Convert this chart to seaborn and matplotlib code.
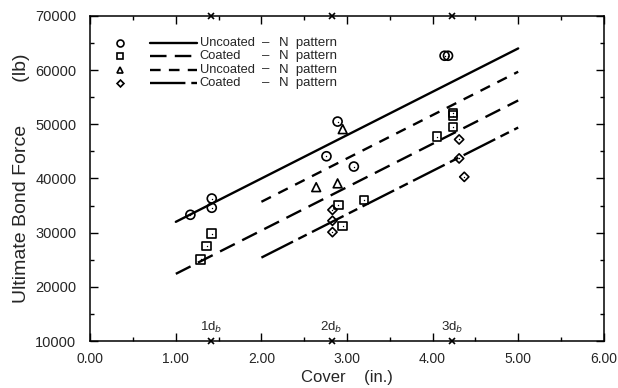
import numpy as np
import pandas as pd
import matplotlib
matplotlib.use("Agg")
import matplotlib.pyplot as plt
import seaborn as sns
from matplotlib.ticker import MultipleLocator, FormatStrFormatter

# measured points (cover in inches, force in lb)
circ_x = [1.17, 1.42, 1.42, 2.76, 2.89, 3.08, 4.14, 4.18]
circ_y = [33300, 34600, 36300, 44100, 50500, 42200, 62650, 62650]
sq_x = [1.29, 1.36, 1.42, 2.90, 2.95, 3.20, 4.05, 4.24, 4.24, 4.24]
sq_y = [25100, 27500, 29800, 35100, 31200, 36000, 47700, 49500, 51600, 52100]
tri_x = [2.64, 2.89, 2.95]
tri_y = [38400, 39100, 49100]
dia_x = [2.83, 2.83, 2.83, 4.31, 4.31, 4.37]
dia_y = [34200, 32200, 30100, 47200, 43700, 40300]

# fitted lines
fit1_x, fit1_y = [1.0, 5.0], [32000, 64000]   # solid
fit2_x, fit2_y = [1.0, 5.0], [22400, 54400]   # long dash
fit3_x, fit3_y = [2.0, 5.0], [35700, 59700]   # short dash
fit4_x, fit4_y = [2.0, 5.0], [25400, 49400]   # dash-dot

# bar diameter multiples
db_x = [1.41, 2.82, 4.23]
db_labels = ["1d$_b$", "2d$_b$", "3d$_b$"]

legend_kind = ["Uncoated", "Coated", "Uncoated", "Coated"]
legend_pat = ["N  pattern", "N  pattern", "N  pattern", "N  pattern"]

sns.set_style("ticks")
plt.rcParams["font.family"] = ["Liberation Sans", "DejaVu Sans"]

fig = plt.figure(figsize=(6.18, 3.88), dpi=100)
ax = fig.add_axes([0.146, 0.121, 0.831, 0.838])

pts = pd.concat([
    pd.DataFrame({"x": circ_x, "y": circ_y, "g": "circ"}),
    pd.DataFrame({"x": sq_x, "y": sq_y, "g": "sq"}),
    pd.DataFrame({"x": tri_x, "y": tri_y, "g": "tri"}),
    pd.DataFrame({"x": dia_x, "y": dia_y, "g": "dia"}),
])
markers = {"circ": "o", "sq": "s", "tri": "^", "dia": "D"}
sizes = {"circ": 42, "sq": 38, "tri": 40, "dia": 22}
for g, m in markers.items():
    sub = pts[pts.g == g]
    sns.scatterplot(data=sub, x="x", y="y", marker=m, s=sizes[g], facecolor="none",
                    edgecolor="black", linewidth=1.2, ax=ax, zorder=4)
    if g != "tri":
        sns.scatterplot(data=sub, x="x", y="y", marker=".", s=4, color="black",
                        linewidth=0, ax=ax, zorder=4)

lines = [
    (fit1_x, fit1_y, (None, None)),
    (fit2_x, fit2_y, (7, 3.5)),
    (fit3_x, fit3_y, (4.5, 3.5)),
    (fit4_x, fit4_y, (15, 2.5, 4, 2.5)),
]
for lx, ly, dash in lines:
    l, = ax.plot(lx, ly, color="black", lw=1.7, zorder=3)
    if dash[0] is not None:
        l.set_dashes(dash)

# db markers on top and bottom axes
for xv, lab in zip(db_x, db_labels):
    ax.plot([xv], [70000], marker="x", color="black", ms=5, mew=1.2, clip_on=False, zorder=5)
    ax.plot([xv], [10000], marker="x", color="black", ms=5, mew=1.2, clip_on=False, zorder=5)
    ax.text(xv, 11200, lab, ha="center", va="bottom", fontsize=9.5)

ax.set_xlim(0, 6)
ax.set_ylim(10000, 70000)
ax.xaxis.set_major_locator(MultipleLocator(1))
ax.xaxis.set_minor_locator(MultipleLocator(0.5))
ax.yaxis.set_major_locator(MultipleLocator(10000))
ax.yaxis.set_minor_locator(MultipleLocator(5000))
ax.xaxis.set_major_formatter(FormatStrFormatter("%.2f"))
ax.tick_params(which="both", direction="in", top=True, right=True, color="black", width=1)
ax.tick_params(which="major", length=6, labelsize=10, pad=8)
ax.tick_params(which="minor", length=3)
ax.tick_params(axis="y", labelsize=10.5, pad=10)
for s in ax.spines.values():
    s.set_linewidth(1.1)
    s.set_color("black")

ax.set_xlabel("Cover    (in.)", fontsize=12, labelpad=3)
ax.set_ylabel("Ultimate Bond Force        (lb)", fontsize=14, labelpad=4)

# hand-made legend, top left
leg_markers = ["o", "s", "^", "D"]
for i in range(4):
    yy = 0.917 - i * 0.041
    ax.plot([0.058], [yy], marker=leg_markers[i], ms=[5, 4.5, 4.5, 3.5][i], mfc="none",
            mec="black", mew=1.2, transform=ax.transAxes, ls="none")
    l, = ax.plot([0.117, 0.208], [yy, yy], color="black", lw=1.7, transform=ax.transAxes)
    if lines[i][2][0] is not None:
        l.set_dashes(lines[i][2])
    ax.text(0.213, yy, legend_kind[i], va="center", fontsize=9.3, transform=ax.transAxes)
    ax.text(0.334, yy, "\u2013", va="center", fontsize=9.5, transform=ax.transAxes)
    ax.text(0.368, yy, legend_pat[i], va="center", fontsize=9.5, transform=ax.transAxes)

fig.savefig("out.png", dpi=100)
